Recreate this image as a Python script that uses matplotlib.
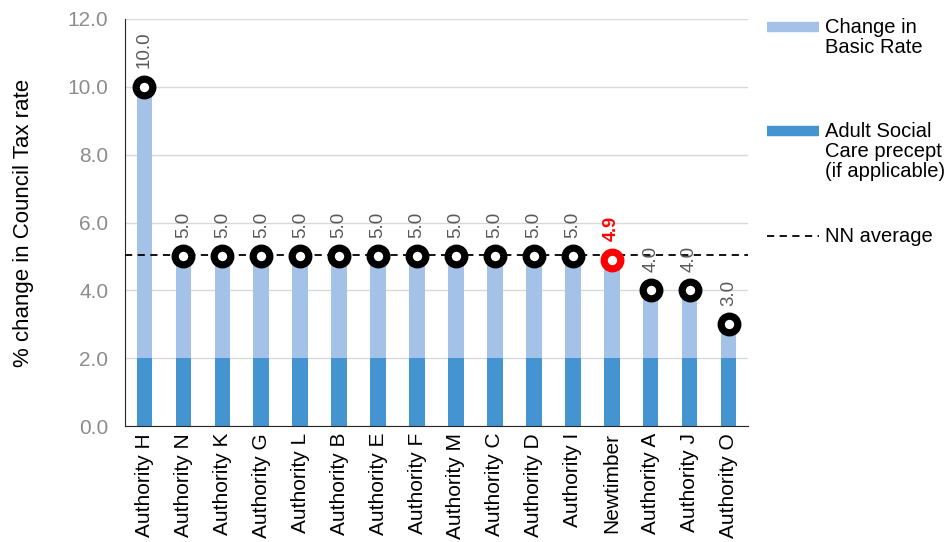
import numpy as np
import matplotlib
matplotlib.use("Agg")
import matplotlib.pyplot as plt
from matplotlib.lines import Line2D

plt.rcParams["font.family"] = ["Liberation Sans", "DejaVu Sans"]

authorities = ["Authority H", "Authority N", "Authority K", "Authority G", "Authority L",
               "Authority B", "Authority E", "Authority F", "Authority M", "Authority C",
               "Authority D", "Authority I", "Newtimber", "Authority A", "Authority J",
               "Authority O"]
total_change = [10.0, 5.0, 5.0, 5.0, 5.0, 5.0, 5.0, 5.0, 5.0, 5.0, 5.0, 5.0, 4.9, 4.0, 4.0, 3.0]
asc_precept = [2.0] * 16
nn_average = 5.05
highlight = "Newtimber"

LIGHT = "#a4c2e8"
DARK = "#4394d0"
GREY = "#8c8c8c"

basic_rate = [t - a for t, a in zip(total_change, asc_precept)]
x = np.arange(len(authorities))

fig = plt.figure(figsize=(9.46, 5.42), dpi=100)
ax = fig.add_axes([125 / 946, 1 - 426 / 542, 623 / 946, 407 / 542])

ax.bar(x, asc_precept, width=0.4, color=DARK, zorder=2)
ax.bar(x, basic_rate, bottom=asc_precept, width=0.4, color=LIGHT, zorder=2)
ax.axhline(nn_average, color="black", linestyle=(0, (4, 3)), linewidth=1.3, zorder=3)

for xi, name, val in zip(x, authorities, total_change):
    ring = "red" if name == highlight else "black"
    ax.plot(xi, val, "o", markersize=12, markerfacecolor="white",
            markeredgecolor=ring, markeredgewidth=5.2, zorder=4)
    if name == highlight:
        ax.text(xi, val + 0.55, f"{val:.1f}", rotation=90, ha="center", va="bottom",
                color="red", fontweight="bold", fontsize=13, zorder=5)
    else:
        ax.text(xi, val + 0.55, f"{val:.1f}", rotation=90, ha="center", va="bottom",
                color="#595959", fontsize=13.5, zorder=5)

ax.set_xlim(-0.5, len(authorities) - 0.5)
ax.set_ylim(0, 12)
ax.set_yticks(np.arange(0, 12.1, 2))
ax.set_yticklabels([f"{v:.1f}" for v in np.arange(0, 12.1, 2)])
ax.set_xticks(x)
ax.set_xticklabels(authorities, rotation=90, fontsize=15)
ax.tick_params(axis="y", colors=GREY, labelsize=15, length=0, pad=12)
ax.tick_params(axis="x", length=0, pad=5)
ax.grid(axis="y", color="#d9d9d9", linewidth=1, zorder=0)
for s in ["top", "right"]:
    ax.spines[s].set_visible(False)
ax.spines["left"].set_color("#262626")
ax.spines["bottom"].set_color("#262626")
ax.set_ylabel("% change in Council Tax rate", fontsize=16, labelpad=24)

# legend on the right, drawn in figure coordinates
def fx(px):
    return px / 946

def fy(py):
    return 1 - py / 542

fig.add_artist(Line2D([fx(767), fx(819)], [fy(27), fy(27)], color=LIGHT, linewidth=7.5,
                      solid_capstyle="butt"))
fig.text(fx(825), fy(18), "Change in\nBasic Rate", fontsize=14.5, va="top", ha="left",
         linespacing=1.05)
fig.add_artist(Line2D([fx(767), fx(819)], [fy(131), fy(131)], color=DARK, linewidth=7.5,
                      solid_capstyle="butt"))
fig.text(fx(825), fy(122), "Adult Social\nCare precept\n(if applicable)", fontsize=14.5,
         va="top", ha="left", linespacing=1.05)
fig.add_artist(Line2D([fx(767), fx(819)], [fy(236), fy(236)], color="black",
                      linestyle=(0, (4, 3)), linewidth=1.3))
fig.text(fx(825), fy(236), "NN average", fontsize=14.5, va="center", ha="left")

fig.savefig("out.png", dpi=100)
